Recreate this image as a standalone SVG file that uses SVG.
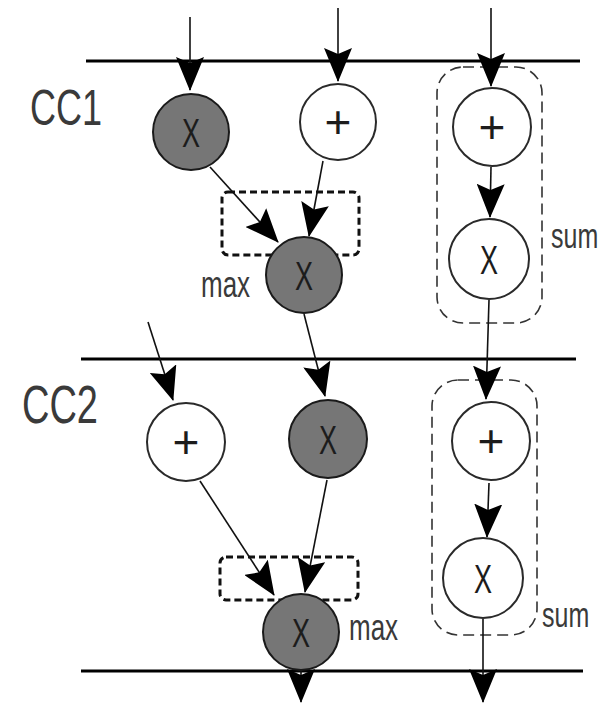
<svg xmlns="http://www.w3.org/2000/svg" width="605" height="711" viewBox="0 0 605 711">
  <style>
    .rule { stroke: #000; stroke-width: 3; }
    .edge { stroke: #111; stroke-width: 1.6; fill: none; marker-end: url(#arrow); }
    .op-gray { fill: #767676; stroke: #1a1a1a; stroke-width: 2; }
    .op-white { fill: #fff; stroke: #2a2a2a; stroke-width: 2; }
    .sym { font-family: "Liberation Sans", Arial, sans-serif; text-anchor: middle; fill: #1c1c1c; }
    .plus { font-size: 46px; }
    .lbl { font-family: "Liberation Sans", Arial, sans-serif; fill: #3a3a3a; }
    .maxbox { fill: none; stroke: #111; stroke-width: 3; stroke-dasharray: 7 4; }
    .sumbox { fill: none; stroke: #333; stroke-width: 1.6; stroke-dasharray: 11 6; }
  </style>
  <defs>
    <marker id="arrow" markerUnits="userSpaceOnUse" viewBox="0 0 34 28" markerWidth="34" markerHeight="28" refX="33" refY="14" orient="auto">
      <path d="M0,0 L34,14 L0,28 L6,14 z" fill="#000"/>
    </marker>
  </defs>

  <rect width="605" height="711" fill="#fff"/>

  <!-- clock-cycle boundaries -->
  <g id="rules">
    <line class="rule" x1="86" y1="61" x2="580" y2="61"/>
    <line class="rule" x1="81" y1="359" x2="576" y2="359"/>
    <line class="rule" x1="81" y1="671" x2="583" y2="671"/>
  </g>

  <!-- cycle labels -->
  <g id="cc1-label"><text class="lbl" transform="translate(30,125) scale(1,1.4)" font-size="36">CC1</text></g>
  <g id="cc2-label"><text class="lbl" transform="translate(22,423) scale(1,1.4)" font-size="38">CC2</text></g>

  <!-- grouping boxes -->
  <g id="max1-box">
    <rect class="maxbox" x="222" y="192" width="137" height="63" rx="6"/>
    <text class="lbl" transform="translate(201,297) scale(1,1.45)" font-size="26">max</text>
  </g>
  <g id="max2-box">
    <rect class="maxbox" x="220" y="557" width="138" height="43" rx="6"/>
    <text class="lbl" transform="translate(349,640) scale(1,1.45)" font-size="26">max</text>
  </g>
  <g id="sum1-box">
    <rect class="sumbox" x="437" y="67" width="105" height="256" rx="26"/>
    <text class="lbl" transform="translate(551,248) scale(1,1.4)" font-size="25">sum</text>
  </g>
  <g id="sum2-box">
    <rect class="sumbox" x="432" y="380" width="105" height="255" rx="26"/>
    <text class="lbl" transform="translate(542,627) scale(1,1.4)" font-size="25">sum</text>
  </g>

  <!-- data-flow edges -->
  <g id="edges">
    <line class="edge" x1="190" y1="17" x2="190" y2="90"/>
    <line class="edge" x1="338" y1="8" x2="338" y2="81"/>
    <line class="edge" x1="491" y1="8" x2="491" y2="86"/>
    <line class="edge" x1="210" y1="167" x2="278" y2="242"/>
    <line class="edge" x1="323" y1="161" x2="309" y2="236"/>
    <line class="edge" x1="491" y1="167" x2="490" y2="217"/>
    <line class="edge" x1="489" y1="300" x2="486" y2="399"/>
    <line class="edge" x1="304" y1="314" x2="325" y2="396"/>
    <line class="edge" x1="148" y1="322" x2="173" y2="400"/>
    <line class="edge" x1="200" y1="481" x2="274" y2="595"/>
    <line class="edge" x1="327" y1="480" x2="305" y2="592"/>
    <line class="edge" x1="489" y1="483" x2="487" y2="537"/>
    <line class="edge" x1="483" y1="619" x2="483" y2="702"/>
    <line class="edge" x1="301" y1="670" x2="301" y2="702"/>
  </g>

  <!-- CC1 operators -->
  <g id="mul-a">
    <circle class="op-gray" cx="191" cy="132" r="38"/>
    <text class="sym" transform="translate(191,132) scale(1,1.5)" y="9.7" font-size="27">X</text>
  </g>
  <g id="add-b">
    <circle class="op-white" cx="338" cy="122" r="38"/>
    <text class="sym plus" x="338" y="138">+</text>
  </g>
  <g id="add-c">
    <circle class="op-white" cx="492" cy="127" r="39"/>
    <text class="sym plus" x="492" y="143">+</text>
  </g>
  <g id="mul-max1">
    <circle class="op-gray" cx="304" cy="275" r="38"/>
    <text class="sym" transform="translate(304,275) scale(1,1.5)" y="9.7" font-size="27">X</text>
  </g>
  <g id="mul-sum1">
    <circle class="op-white" cx="489" cy="259" r="40"/>
    <text class="sym" transform="translate(489,259) scale(1,1.5)" y="9.7" font-size="27">X</text>
  </g>

  <!-- CC2 operators -->
  <g id="add-d">
    <circle class="op-white" cx="186" cy="442" r="39"/>
    <text class="sym plus" x="186" y="458">+</text>
  </g>
  <g id="mul-e">
    <circle class="op-gray" cx="328" cy="439" r="39"/>
    <text class="sym" transform="translate(328,439) scale(1,1.5)" y="9.7" font-size="27">X</text>
  </g>
  <g id="add-f">
    <circle class="op-white" cx="491" cy="441" r="39"/>
    <text class="sym plus" x="491" y="457">+</text>
  </g>
  <g id="mul-max2">
    <circle class="op-gray" cx="301" cy="632" r="38"/>
    <text class="sym" transform="translate(301,632) scale(1,1.5)" y="9.7" font-size="27">X</text>
  </g>
  <g id="mul-sum2">
    <circle class="op-white" cx="483" cy="578" r="40"/>
    <text class="sym" transform="translate(483,578) scale(1,1.5)" y="9.7" font-size="27">X</text>
  </g>
</svg>
